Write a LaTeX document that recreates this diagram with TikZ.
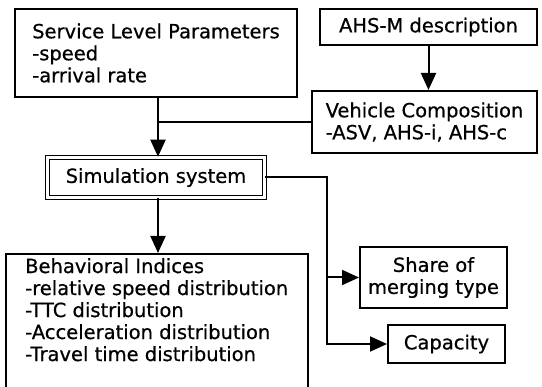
\documentclass[tikz,border=0pt]{standalone}
\usepackage{fontspec}
\setmainfont[FakeBold=0.6]{DejaVu Sans}
\usetikzlibrary{positioning,arrows.meta,calc}
\tikzset{main node/.style={draw,line width=2pt,inner sep=0pt,
font=\fontsize{19.5}{22}\selectfont},
sim node/.style={main node,double,double distance=2.2pt,line width=1.5pt},
flow/.style={line width=2pt,-{Triangle[length=17pt,width=15pt]}}}

\begin{document}
\begin{tikzpicture}[x=1pt,y=-1pt]
\useasboundingbox (0,0) rectangle (542,387);
\node[main node,align=left,minimum width=282,minimum height=88] (0) at (156,53)
 {Service Level Parameters\\-speed\\-arrival rate};
\node[main node,minimum width=217,minimum height=36] (1) at (428.5,27) {AHS-M description};
\node[main node,align=left,minimum width=225,minimum height=62] (2) at (424.5,122)
 {Vehicle Composition\\-ASV, AHS-i, AHS-c};
\node[sim node,minimum width=217,minimum height=40] (3) at (156,177.5) {Simulation system};
\node[main node,align=center,minimum width=147,minimum height=61] (4) at (433.5,277.5)
 {Share of\\merging type};
\node[main node,minimum width=117,minimum height=38] (5) at (446.5,344) {Capacity};
% frame runs off the bottom edge
\node[main node,anchor=north west,minimum width=302,minimum height=160] (6) at (5,253) {};
\node[font=\fontsize{19.5}{22}\selectfont,align=left,inner sep=0pt,anchor=north west] (7) at (25,258)
 {Behavioral Indices\\-relative speed distribution\\-TTC distribution\\-Acceleration distribution\\-Travel time distribution};

\coordinate (a) at (158,122);
\coordinate (b) at (327,177);

\path[draw,line width=2pt] (a |- 0.south) -- (a) (2.west) -- (a);
\path[draw,flow] (a) -- (a |- 3.north);
\path[draw,flow] (1.south) -- (1.south |- 2.north);
\path[draw,flow] (a |- 3.south) -- (a |- 6.north);
\path[draw,flow] (3.east) -| (b |- 4.west) -- (4.west);
\path[draw,flow] (b |- 4.west) |- (5.west);
\end{tikzpicture}
\end{document}
